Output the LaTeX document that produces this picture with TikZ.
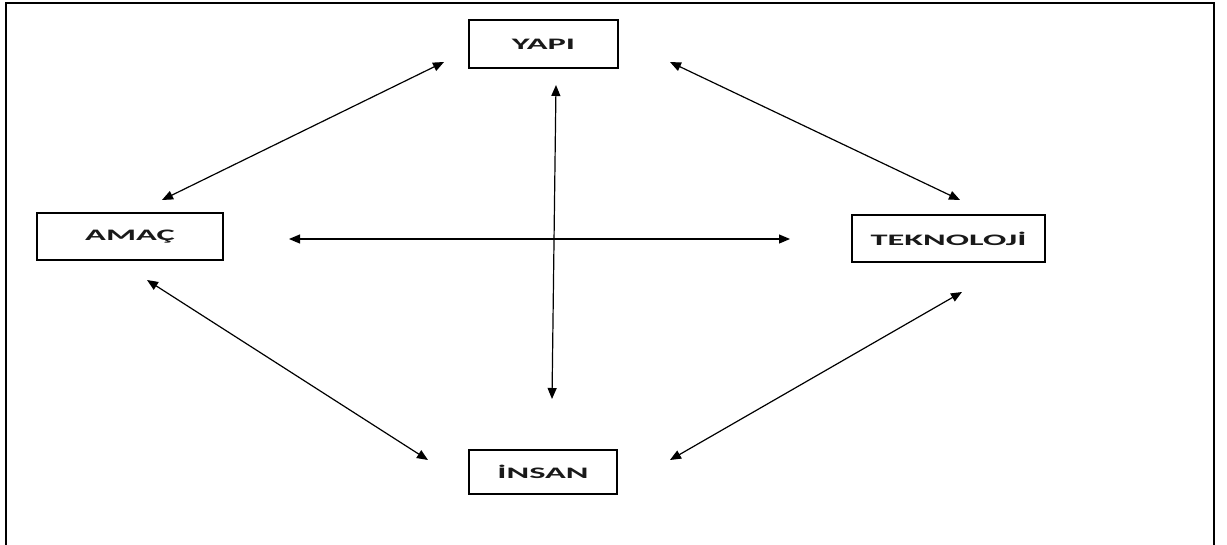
\documentclass[tikz,border=0pt]{standalone}
\usepackage{fontspec}
\setmainfont{Carlito}
\usetikzlibrary{arrows.meta}
\tikzset{
  lbl/.style={draw=black,line width=1.6pt,fill=white,inner sep=0pt,font=\bfseries\fontsize{16}{18}\selectfont,text=black!90},
  link/.style={line width=1.2pt,{Triangle[length=11pt,width=9pt]}-{Triangle[length=11pt,width=9pt]}}
}
\newcommand{\wtxt}[1]{\scalebox{2.15}[1]{#1}}
\begin{document}
\begin{tikzpicture}[x=1pt,y=-1pt]
\useasboundingbox (0,0) rectangle (1227,544);
\draw[line width=2.2pt] (6,560) -- (6,3) -- (1214,3) -- (1214,560);
\node[lbl,minimum width=149pt,minimum height=48pt] (yapi) at (543.5,44) {\wtxt{YAPI}};
\node[lbl,minimum width=186pt,minimum height=47pt] (amac) at (130,236.5) {\wtxt{AMAÇ}};
\node[lbl,minimum width=193pt,minimum height=47pt] (tek) at (948.5,238.5) {\wtxt{TEKNOLOJİ}};
\node[lbl,minimum width=148pt,minimum height=44pt] (insan) at (543,472) {\wtxt{İNSAN}};
\coordinate (ya1) at (444,62); \coordinate (am1) at (162,200);
\coordinate (ya2) at (670,62); \coordinate (te1) at (960,200);
\coordinate (am2) at (147,280); \coordinate (in1) at (428,460);
\coordinate (te2) at (962,292); \coordinate (in2) at (670,460);
\coordinate (vt) at (556,85); \coordinate (vb) at (552,399);
\coordinate (hl) at (289,239); \coordinate (hr) at (790,239);
\draw[link] (ya1) -- (am1);
\draw[link] (ya2) -- (te1);
\draw[link] (am2) -- (in1);
\draw[link] (te2) -- (in2);
\draw[link] (vt) -- (vb);
\draw[link] (hl) -- (hr);
\end{tikzpicture}
\end{document}
